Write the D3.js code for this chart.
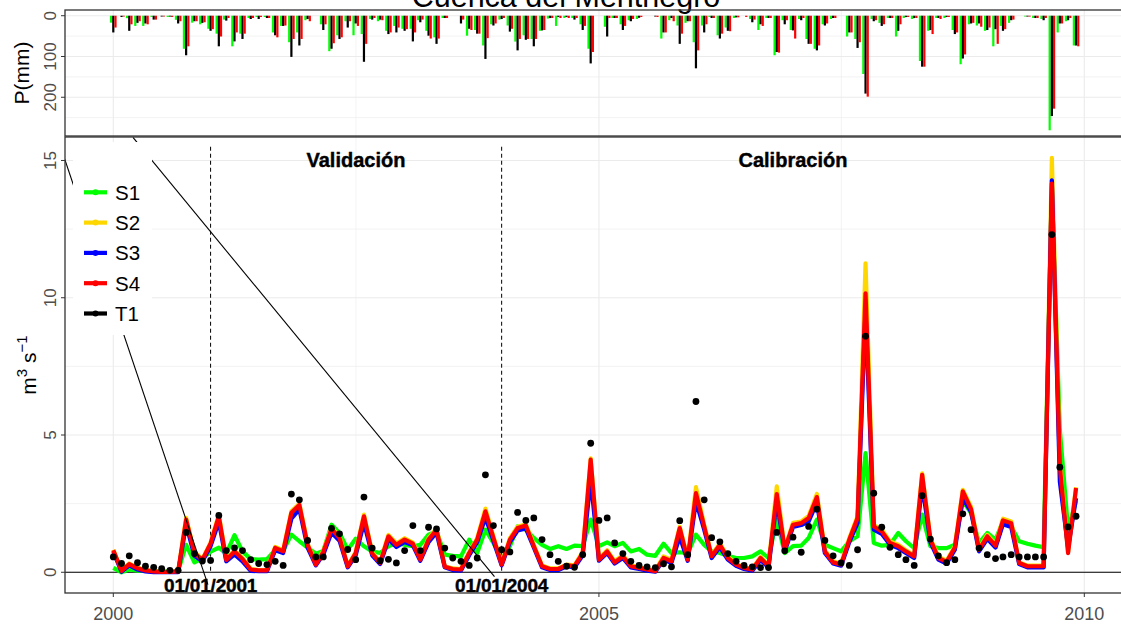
<!DOCTYPE html>
<html>
<head>
<meta charset="utf-8">
<script src="https://cdn.jsdelivr.net/npm/d3@7"></script>
<style>
  body { margin: 0; background: #fff; }
  svg { display: block; font-family: "Liberation Sans", Arial, Helvetica, sans-serif; }
</style>
</head>
<body>
<svg id="chart" width="1121" height="624"></svg>
<script>
// ---- data: monthly series, Jan 2000 - Dec 2009 ----
const startMonth = new Date(2000, 0, 1);
const endMonth = new Date(2010, 0, 1);

// simulated discharge (m3/s)
const S1 = [0.16,0.0,0.1,0.06,0.05,0.04,0.04,0.04,0.05,1.0, 0.36,0.5,0.75,0.9,0.68,1.35,0.76,0.48,0.46,0.48,
  0.8,0.78,1.37,1.13,0.9,0.68,0.78,1.73,1.43,0.82, 1.22,0.95,0.76,0.7,0.95,1.07,1.0,0.95,1.0,1.37,
  1.49,0.64,0.6,0.58,1.19,0.7,1.55,1.07,0.46,0.95, 1.67,1.55,1.25,1.0,0.85,0.95,0.85,0.97,0.95,1.92,
  0.95,1.09,0.95,1.07,0.76,0.85,0.64,0.6,1.04,0.7, 0.73,0.7,1.37,1.0,0.76,0.7,0.6,0.52,0.52,0.58,
  0.76,0.52,1.92,0.7,0.95,0.97,1.25,1.92,1.0,0.88, 0.76,1.13,1.31,4.34,1.07,0.97,1.0,1.43,1.13,0.88,
  2.1,0.95,0.88,0.88,1.0,2.6,2.16,1.07,1.43,1.19, 1.85,1.67,1.13,1.04,0.97,0.91,14.0,5.19,1.55,2.6];
const S2 = [0.82,0.06,0.32,0.16,0.08,0.04,0.02,0.02,0.04,1.98, 0.74,0.48,1.08,2.1,0.48,0.8,0.52,0.12,0.08,0.08,
  0.92,0.8,2.22,2.5,1.04,0.3,0.78,1.63,1.3,0.24, 0.74,2.1,0.72,0.37,1.36,1.05,1.24,1.08,0.5,1.24,
  1.6,0.22,0.14,0.12,0.74,1.24,2.32,1.3,0.3,1.24, 1.66,1.75,1.0,0.25,0.14,0.14,0.28,0.25,0.74,4.15,
  0.5,0.8,0.4,0.62,0.25,0.18,0.12,0.06,0.58,0.45, 1.66,0.5,3.1,1.72,0.62,1.05,0.56,0.31,0.18,0.12,
  0.56,0.25,3.13,0.86,1.8,1.85,2.05,2.85,0.8,0.4, 0.31,1.24,2.04,11.25,1.72,1.55,1.12,1.0,0.8,0.62,
  3.6,1.24,0.56,0.42,0.95,3.0,2.38,0.86,1.36,1.02, 1.95,1.85,0.36,0.24,0.24,0.24,15.1,3.9,0.75,3.1];
const S3 = [0.75,0.02,0.25,0.1,0.03,0.0,0.0,0.0,0.0,1.75, 0.6,0.4,0.95,1.85,0.4,0.65,0.4,0.05,0.04,0.04,
  0.8,0.7,1.95,2.3,0.9,0.25,0.65,1.45,1.15,0.18, 0.62,1.8,0.62,0.3,1.2,0.92,1.1,0.98,0.42,1.1,
  1.45,0.18,0.08,0.06,0.62,1.1,2.0,1.15,0.25,1.1, 1.52,1.6,0.9,0.18,0.08,0.08,0.22,0.18,0.62,3.4,
  0.42,0.7,0.32,0.52,0.18,0.12,0.06,0.02,0.45,0.35, 1.3,0.42,2.6,1.55,0.52,0.92,0.46,0.24,0.12,0.06,
  0.45,0.18,2.6,0.76,1.65,1.72,1.85,2.55,0.7,0.32, 0.24,1.1,1.8,9.6,1.55,1.4,1.0,0.88,0.7,0.52,
  3.2,1.1,0.46,0.32,0.82,2.7,2.2,0.76,1.22,0.9, 1.75,1.65,0.3,0.18,0.18,0.18,14.28,3.3,0.9,2.7];
const S4 = [0.8,0.05,0.3,0.15,0.07,0.03,0.01,0.01,0.03,1.92, 0.7,0.45,1.05,2.04,0.45,0.76,0.48,0.1,0.07,0.07,
  0.89,0.76,2.17,2.45,1.0,0.28,0.74,1.58,1.25,0.21, 0.7,2.04,0.68,0.34,1.31,1.0,1.19,1.04,0.46,1.19,
  1.55,0.2,0.12,0.1,0.7,1.19,2.22,1.25,0.28,1.19, 1.61,1.7,0.95,0.22,0.12,0.12,0.26,0.22,0.7,4.1,
  0.46,0.76,0.36,0.58,0.22,0.16,0.1,0.04,0.52,0.4, 1.61,0.46,2.88,1.67,0.58,1.0,0.52,0.28,0.16,0.1,
  0.52,0.22,2.85,0.82,1.73,1.79,1.98,2.74,0.76,0.36, 0.28,1.19,1.98,10.16,1.67,1.49,1.07,0.95,0.76,0.58,
  3.55,1.19,0.52,0.38,0.9,2.95,2.3,0.82,1.31,0.97, 1.89,1.79,0.34,0.22,0.22,0.22,14.16,3.85,0.7,3.07];
// observed discharge (m3/s)
const T1 = [0.56,0.32,0.6,0.35,0.22,0.18,0.13,0.07,0.07,1.45, 0.68,0.41,0.43,2.07,0.79,0.89,0.79,0.46,0.32,0.28,
  0.4,0.25,2.85,2.64,1.16,0.56,0.56,1.6,1.4,0.83, 0.46,2.74,0.88,0.42,0.47,0.34,0.79,1.7,0.79,1.64,
  1.58,0.88,0.52,0.4,0.25,0.52,3.55,1.7,0.82,0.74, 2.18,1.89,1.98,1.19,0.64,0.4,0.22,0.18,0.64,4.7,
  1.89,1.98,1.07,0.68,0.4,0.25,0.2,0.17,0.31,0.2, 1.88,0.64,6.22,2.64,1.26,1.11,0.68,0.4,0.25,0.2,
  0.17,0.17,1.45,0.78,1.28,0.73,1.67,2.3,1.16,0.6, 0.34,0.25,0.82,8.6,2.88,1.64,0.91,0.64,0.46,0.25,
  2.79,1.21,0.6,0.35,0.46,2.13,1.55,0.88,0.64,0.5, 0.56,0.64,0.56,0.56,0.56,0.56,12.3,3.83,1.65,2.04];

// monthly precipitation (mm) at three gauges
const precipA = [17,0,6,25,25,3,0,3,10,81, 17,21,32,44,9.5,75,44,5.6,3,3,
  41,25,65,41,11,0,21,87,48,13.5, 48,45,8,13.5,37,25,32,32,11,37,
  53,5.6,0,0,49,35,73,21,9.5,24, 63.5,48,57,37,7,25,5.6,5.6,21,81,
  0,27,5.6,21,11,8,0,0,56,11, 24,17.5,65,24,3,48,29,5.6,0,8,
  35,5.6,97,11,35,8,57,81,21,8, 0,51,57,143,8,17.5,5.6,51,5.6,8,
  111,37,5.6,5.6,35,119,21,24,37,75, 25,17.5,0,2,5.6,8,281,41,13.5,73];
const precipB = [41,3,37,17.5,19,9.5,2,2,19,97, 13.5,17.5,37,75,12,63,57,8,8,5.6,
  48,25,101,73,8,0,35,81,57,29, 19,113,9.5,9.5,45,41,37,63,16,49,
  69,5.6,0,19,32,44,106,24,8,39, 85,59,75,36,5.6,3,3,9.5,35,117,
  0,51,5.6,35,13.5,5,0,2,41,5.6, 69,13.5,129,41,5.6,56,37,4,0,16,
  21,5.6,89,21,36,11,69,85,24,5.6, 0,41,79,191,13.5,25,5.6,37,3,5.6,
  125,35,5.6,3,45,105,19,19,35,33, 37,11,0,2,5.6,11,246,19,11,73];
const precipC = [29,2,21,13.5,21,9.5,2,3,13.5,75, 13.5,16,33,51,5.6,41,44,5.6,3,5.6,
  53,24,57,57,13.5,0,21,67.5,53,13.5, 25,69,5.6,11,41,29,33,41,9.5,56,
  56,5.6,0,9.5,35,44,55,19,5.6,32, 57,57,57,35,5.6,5.6,5.6,5.6,25,89,
  0,5.6,5.6,25,8,3,0,3,41,13.5, 44,13.5,85,21,5.6,44,38,4,3,9.5,
  25,5.6,90.5,11,56,5.6,69,73,19,5.6, 0,41,65,198.5,11,21,5.6,21,3,5.6,
  125,45,8,3,41,95,17.5,27,29,69, 33,9.5,0,2,5.6,5.6,228,19,5.6,75];

const seriesNames = ["S1", "S2", "S3", "S4"];
const seriesValues = [S1, S2, S3, S4];
const legendNames = ["S1", "S2", "S3", "S4", "T1"];
const precipNames = ["A", "B", "C"];
const precipValues = [precipA, precipB, precipC];

const qTicks = [0, 5, 10, 15];
const pTicks = [0, 100, 200];
const yearTicks = [2000, 2005, 2010];
const markers = [new Date(2001, 0, 1), new Date(2004, 0, 1)];
const markerLabels = ["01/01/2001", "01/01/2004"];
const periodLabels = [{ text: "Validación", date: new Date(2002, 6, 2), q: 15 },
                      { text: "Calibración", date: new Date(2007, 0, 1), q: 15 }];
const title = "Cuenca del Mentnegro";

// ---- styling ----
const seriesColors = { S1: "#00ff00", S2: "#ffd700", S3: "#0000ff", S4: "#ff0000", T1: "#000000" };
const precipColors = { A: "#00ff00", B: "#000000", C: "#ff0000" };
const gridColor = "#ebebeb";
const frameColor = "#333333";
const axisTextColor = "#4d4d4d";

const months = d3.timeMonth.range(startMonth, endMonth);

// ---- layout ----
const panelLeft = 65, panelRight = 1124;
const topPanel = { top: 10, bottom: 136 };
const mainPanel = { top: 137, bottom: 593 };

const svg = d3.select("#chart");

const x = d3.scaleTime().domain([startMonth, endMonth]).range([113.3, 1084.3]);

// ---- title (top of figure) ----
svg.append("text")
  .attr("x", 566).attr("y", 7)
  .attr("text-anchor", "middle")
  .attr("font-size", 30.5)
  .attr("fill", "#000")
  .text(title);

// ---- precipitation panel (inverted) ----
const pMax = d3.max(precipValues.flat());
const yP = d3.scaleLinear().domain([-pMax * 0.05, pMax * 1.05]).range([topPanel.top, topPanel.bottom]);

const gTop = svg.append("g");
gTop.append("clipPath").attr("id", "clipTop")
  .append("rect").attr("x", panelLeft).attr("y", topPanel.top)
  .attr("width", panelRight - panelLeft).attr("height", topPanel.bottom - topPanel.top);

const topGrid = gTop.append("g");
d3.range(0, 300, 50).forEach(v => {
  topGrid.append("line")
    .attr("x1", panelLeft).attr("x2", panelRight)
    .attr("y1", yP(v)).attr("y2", yP(v))
    .attr("stroke", gridColor).attr("stroke-width", v % 100 === 0 ? 1.1 : 0.6);
});
[2000, 2002.5, 2005, 2007.5, 2010].forEach(yr => {
  const d = new Date(Math.floor(yr), yr % 1 ? 6 : 0, yr % 1 ? 2 : 1);
  topGrid.append("line")
    .attr("x1", x(d)).attr("x2", x(d))
    .attr("y1", topPanel.top).attr("y2", topPanel.bottom)
    .attr("stroke", gridColor).attr("stroke-width", yr % 1 ? 0.6 : 1.1);
});

const groupWidth = 6.6;
const band = d3.scaleBand().domain(precipNames).range([-groupWidth / 2, groupWidth / 2]).padding(0);
const barsG = gTop.append("g").attr("clip-path", "url(#clipTop)");
precipNames.forEach((name, k) => {
  barsG.append("g").selectAll("rect")
    .data(precipValues[k].map((v, i) => ({ v, d: months[i] })))
    .join("rect")
    .attr("x", p => x(p.d) + band(name))
    .attr("width", band.bandwidth())
    .attr("y", yP(0))
    .attr("height", p => Math.max(0, yP(p.v) - yP(0)))
    .attr("fill", precipColors[name]);
});

gTop.append("rect")
  .attr("x", panelLeft).attr("y", topPanel.top)
  .attr("width", panelRight - panelLeft).attr("height", topPanel.bottom - topPanel.top)
  .attr("fill", "none").attr("stroke", frameColor).attr("stroke-width", 1.3);

pTicks.forEach(v => {
  gTop.append("line").attr("x1", panelLeft - 4).attr("x2", panelLeft)
    .attr("y1", yP(v)).attr("y2", yP(v)).attr("stroke", frameColor).attr("stroke-width", 1);
  gTop.append("text")
    .attr("transform", `translate(${panelLeft - 9},${yP(v)}) rotate(-90)`)
    .attr("text-anchor", "middle")
    .attr("font-size", 17).attr("fill", axisTextColor)
    .text(v);
});
gTop.append("text")
  .attr("transform", `translate(29,${(topPanel.top + topPanel.bottom) / 2}) rotate(-90)`)
  .attr("text-anchor", "middle").attr("font-size", 21).attr("fill", "#000")
  .text("P(mm)");

// ---- discharge panel ----
const y = d3.scaleLinear().domain([-0.755, 15.855]).range([mainPanel.bottom, mainPanel.top]);

const gMain = svg.append("g");
gMain.append("clipPath").attr("id", "clipMain")
  .append("rect").attr("x", panelLeft).attr("y", mainPanel.top)
  .attr("width", panelRight - panelLeft).attr("height", mainPanel.bottom - mainPanel.top);

const mainGrid = gMain.append("g");
d3.range(0, 16, 2.5).forEach(v => {
  mainGrid.append("line")
    .attr("x1", panelLeft).attr("x2", panelRight)
    .attr("y1", y(v)).attr("y2", y(v))
    .attr("stroke", gridColor).attr("stroke-width", v % 5 === 0 ? 1.1 : 0.6);
});
[2000, 2002.5, 2005, 2007.5, 2010].forEach(yr => {
  const d = new Date(Math.floor(yr), yr % 1 ? 6 : 0, yr % 1 ? 2 : 1);
  mainGrid.append("line")
    .attr("x1", x(d)).attr("x2", x(d))
    .attr("y1", mainPanel.top).attr("y2", mainPanel.bottom)
    .attr("stroke", gridColor).attr("stroke-width", yr % 1 ? 0.6 : 1.1);
});

const plotG = gMain.append("g").attr("clip-path", "url(#clipMain)");

// period boundaries
markers.forEach(d => {
  plotG.append("line")
    .attr("x1", x(d)).attr("x2", x(d))
    .attr("y1", y(15.5)).attr("y2", y(0))
    .attr("stroke", "#000").attr("stroke-width", 1)
    .attr("stroke-dasharray", "4,3");
});

// zero line
plotG.append("line")
  .attr("x1", panelLeft).attr("x2", panelRight)
  .attr("y1", y(0)).attr("y2", y(0))
  .attr("stroke", "#000").attr("stroke-width", 1.2);

const line = d3.line().x((v, i) => x(months[i])).y(v => y(v));
seriesNames.forEach((name, k) => {
  plotG.append("path")
    .datum(seriesValues[k])
    .attr("d", line)
    .attr("fill", "none")
    .attr("stroke", seriesColors[name])
    .attr("stroke-width", 4.2)
    .attr("stroke-linejoin", "round")
    .attr("stroke-linecap", "butt");
});

plotG.append("g").selectAll("circle")
  .data(T1.map((v, i) => ({ v, d: months[i] })))
  .join("circle")
  .attr("cx", p => x(p.d)).attr("cy", p => y(p.v))
  .attr("r", 3.4).attr("fill", "#000");

// leader lines from the boundary labels
const leaders = [
  { from: [new Date(1999, 5, 20), 15.4], to: [new Date(2000, 11, 22), -0.45] },
  { from: [new Date(2000, 2, 15), 15.84], to: [new Date(2003, 11, 5), -0.16] }
];
leaders.forEach(l => {
  plotG.append("line")
    .attr("x1", x(l.from[0])).attr("y1", y(l.from[1]))
    .attr("x2", x(l.to[0])).attr("y2", y(l.to[1]))
    .attr("stroke", "#000").attr("stroke-width", 1.1);
});

// period titles
periodLabels.forEach(p => {
  plotG.append("text")
    .attr("x", x(p.date)).attr("y", y(p.q) + 7)
    .attr("text-anchor", "middle")
    .attr("font-size", 20).attr("font-weight", "bold")
    .attr("fill", "#000").attr("stroke", "#000").attr("stroke-width", 0.4)
    .text(p.text);
});

// boundary date labels
markers.forEach((d, k) => {
  gMain.append("text")
    .attr("x", x(d)).attr("y", y(-0.45) + 7)
    .attr("text-anchor", "middle")
    .attr("font-size", 19).attr("font-weight", "bold")
    .attr("fill", "#000").attr("stroke", "#000").attr("stroke-width", 0.4)
    .attr("letter-spacing", -0.2)
    .text(markerLabels[k]);
});

// legend
const legendG = gMain.append("g");
legendG.append("rect").attr("x", 73).attr("y", 142).attr("width", 79).attr("height", 193).attr("fill", "#fff");
legendNames.forEach((name, k) => {
  const ly = 192.3 + k * 30.3;
  legendG.append("line").attr("x1", 84).attr("x2", 107).attr("y1", ly).attr("y2", ly)
    .attr("stroke", seriesColors[name]).attr("stroke-width", 4.2);
  legendG.append("circle").attr("cx", 95.5).attr("cy", ly).attr("r", 3).attr("fill", seriesColors[name]);
  legendG.append("text").attr("x", 115).attr("y", ly + 7.5)
    .attr("font-size", 20.5).attr("fill", "#000").text(name);
});

// panel frame
gMain.append("rect")
  .attr("x", panelLeft).attr("y", mainPanel.top)
  .attr("width", panelRight - panelLeft).attr("height", mainPanel.bottom - mainPanel.top)
  .attr("fill", "none").attr("stroke", frameColor).attr("stroke-width", 1.3);

// axes
qTicks.forEach(v => {
  gMain.append("line").attr("x1", panelLeft - 4).attr("x2", panelLeft)
    .attr("y1", y(v)).attr("y2", y(v)).attr("stroke", frameColor).attr("stroke-width", 1);
  gMain.append("text")
    .attr("transform", `translate(${panelLeft - 9},${y(v)}) rotate(-90)`)
    .attr("text-anchor", "middle")
    .attr("font-size", 17).attr("fill", axisTextColor)
    .text(v);
});
yearTicks.forEach(yr => {
  const d = new Date(yr, 0, 1);
  gMain.append("line").attr("x1", x(d)).attr("x2", x(d))
    .attr("y1", mainPanel.bottom).attr("y2", mainPanel.bottom + 4)
    .attr("stroke", frameColor).attr("stroke-width", 1);
  gMain.append("text")
    .attr("x", x(d)).attr("y", mainPanel.bottom + 27)
    .attr("text-anchor", "middle")
    .attr("font-size", 18).attr("fill", axisTextColor)
    .text(yr);
});

// y-axis title with superscripts
const yTitle = gMain.append("text")
  .attr("transform", `translate(36,${(mainPanel.top + mainPanel.bottom) / 2}) rotate(-90)`)
  .attr("text-anchor", "middle").attr("font-size", 21).attr("fill", "#000");
yTitle.append("tspan").text("m");
yTitle.append("tspan").attr("dy", -9).attr("font-size", 15).text("3");
yTitle.append("tspan").attr("dy", 9).text(" s");
yTitle.append("tspan").attr("dy", -9).attr("font-size", 15).text("\u22121");
</script>
</body>
</html>
